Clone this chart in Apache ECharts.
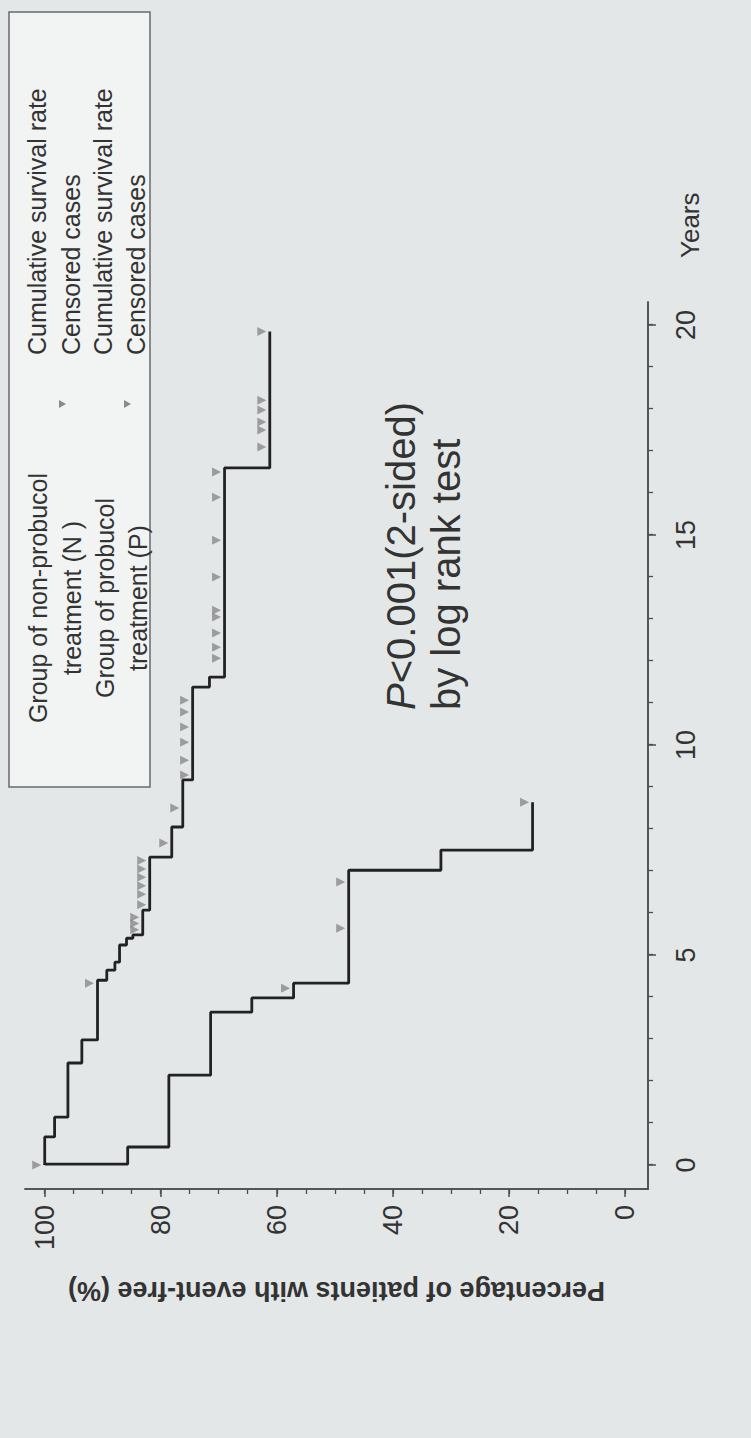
<!DOCTYPE html>
<html>
<head>
<meta charset="utf-8">
<script src="https://cdn.jsdelivr.net/npm/echarts@6/dist/echarts.min.js"></script>
<style>
html,body{margin:0;padding:0;width:751px;height:1438px;overflow:hidden;background:#e4e7e8;}
#chart{position:absolute;left:0;top:0;width:1438px;height:751px;transform-origin:0 0;transform:translate(0,1438px) rotate(-90deg);}
</style>
</head>
<body>
<div id="chart"></div>
<script>
// ---- tick labels ----
const yearLabelTicks = [0, 5, 10, 15, 20];
const yearMinorTicks = [0,1,2,3,4,5,6,7,8,9,10,11,12,13,14,15,16,17,18,19,20];
const pctLabelTicks = [0, 20, 40, 60, 80, 100];
const pctMinorTicks = [0,5,10,15,20,25,30,35,40,45,50,55,60,65,70,75,80,85,90,95,100];

// ---- Group of probucol treatment (P): step points (time in years, survival %) ----
const probucolTimes    = [0, 0.67, 1.14, 2.43, 2.98, 4.40, 4.64, 4.83, 5.24, 5.40, 5.48, 6.07, 7.33, 8.05, 9.17, 11.38, 11.62, 16.6, 19.85];
const probucolSurvival = [100, 98.3, 96.0, 93.6, 90.9, 89.3, 87.9, 87.1, 85.9, 84.8, 83.1, 81.9, 78.1, 76.2, 74.5, 71.6, 69.0, 61.2, 61.2];
const probucolCensorTimes  = [0, 4.33, 5.6, 5.75, 5.9, 6.2, 6.45, 6.65, 6.85, 7.05, 7.25, 7.67, 8.5, 9.29, 9.64, 10.07, 10.43, 10.79, 11.07, 12.07, 12.33, 12.67, 13.05, 13.21, 14.0, 14.88, 15.9, 16.5, 17.1, 17.5, 17.69, 17.98, 18.21, 19.85];
const probucolCensorLevels = [100, 90.9, 83.1, 83.1, 83.1, 81.9, 81.9, 81.9, 81.9, 81.9, 81.9, 78.1, 76.2, 74.5, 74.5, 74.5, 74.5, 74.5, 74.5, 69.0, 69.0, 69.0, 69.0, 69.0, 69.0, 69.0, 69.0, 69.0, 61.2, 61.2, 61.2, 61.2, 61.2, 61.2];

// ---- Group of non-probucol treatment (N) ----
const nonProbucolTimes    = [0, 0.02, 0.43, 2.14, 3.64, 3.98, 4.33, 7.02, 7.5, 8.64];
const nonProbucolSurvival = [100, 85.7, 78.6, 71.4, 64.3, 57.1, 47.6, 31.7, 15.9, 15.9];
const nonProbucolCensorTimes  = [4.21, 5.64, 6.74, 8.64];
const nonProbucolCensorLevels = [57.1, 47.6, 47.6, 15.9];

function pairs(xs, ys) { return xs.map((x, i) => [x, ys[i]]); }

const FONT = '"Liberation Sans", Arial, sans-serif';
const TXT = '#333333';
const AX = '#4d4d4d';
const LINE = '#222222';
const CENS = '#8a8a8a';

const chart = echarts.init(document.getElementById('chart'), null, {renderer: 'svg', width: 1438, height: 751});

const option = {
  animation: false,
  backgroundColor: '#e4e7e8',
  grid: {left: 249, right: 302, top: 25, bottom: 103, containLabel: false},
  xAxis: [
    {
      type: 'value', min: -0.57, max: 20.55, position: 'bottom',
      axisLine: {onZero: false, lineStyle: {color: AX, width: 1.5}},
      axisTick: {customValues: yearLabelTicks, length: 8, lineStyle: {color: AX, width: 1.5}},
      axisLabel: {customValues: yearLabelTicks, margin: 24, fontSize: 27, color: TXT, fontFamily: FONT},
      splitLine: {show: false},
      name: 'Years', nameLocation: 'end', nameGap: 44,
      nameTextStyle: {fontSize: 26, color: TXT, fontFamily: FONT, verticalAlign: 'top', lineHeight: 84}
    },
    {
      type: 'value', min: -0.57, max: 20.55, position: 'bottom',
      axisLine: {onZero: false, lineStyle: {color: AX, width: 1.5}},
      axisTick: {customValues: yearMinorTicks, length: 5, lineStyle: {color: AX, width: 1.3}},
      axisLabel: {show: false},
      splitLine: {show: false}
    }
  ],
  yAxis: [
    {
      type: 'value', min: -4, max: 103.4, position: 'left',
      axisLine: {onZero: false, lineStyle: {color: AX, width: 1.5}},
      axisTick: {customValues: pctLabelTicks, length: 8, lineStyle: {color: AX, width: 1.5}},
      axisLabel: {customValues: pctLabelTicks, margin: 16, fontSize: 27, color: TXT, fontFamily: FONT},
      splitLine: {show: false},
      name: 'Percentage of patients with event-free (%)', nameLocation: 'middle', nameGap: 88,
      nameTextStyle: {fontSize: 27, fontWeight: 'bold', color: TXT, fontFamily: FONT}
    },
    {
      type: 'value', min: -4, max: 103.4, position: 'left',
      axisLine: {onZero: false, lineStyle: {color: AX, width: 1.5}},
      axisTick: {customValues: pctMinorTicks, length: 5, lineStyle: {color: AX, width: 1.3}},
      axisLabel: {show: false},
      splitLine: {show: false}
    }
  ],
  series: [
    {
      name: 'Group of non-probucol treatment (N )', type: 'line', step: 'end',
      data: pairs(nonProbucolTimes, nonProbucolSurvival),
      showSymbol: false, symbol: 'none',
      lineStyle: {color: LINE, width: 2.8}, z: 3
    },
    {
      name: 'Group of probucol treatment (P)', type: 'line', step: 'end',
      data: pairs(probucolTimes, probucolSurvival),
      showSymbol: false, symbol: 'none',
      lineStyle: {color: LINE, width: 2.8}, z: 3
    },
    {
      name: 'Censored cases (N)', type: 'scatter',
      data: pairs(nonProbucolCensorTimes, nonProbucolCensorLevels),
      symbol: 'triangle', symbolSize: [9, 9], symbolRotate: 180, symbolOffset: [0, -8],
      itemStyle: {color: CENS}, z: 4
    },
    {
      name: 'Censored cases (P)', type: 'scatter',
      data: pairs(probucolCensorTimes, probucolCensorLevels),
      symbol: 'triangle', symbolSize: [9, 9], symbolRotate: 180, symbolOffset: [0, -8],
      itemStyle: {color: CENS}, z: 4
    }
  ],
  graphic: [
    {type: 'rect', shape: {x: 651, y: 9, width: 775, height: 141},
     style: {fill: '#f2f3f3', stroke: '#6a6a6a', lineWidth: 1.5}, z: 10},
    {type: 'text', x: 840, y: 38, z: 11, style: {text: 'Group of non-probucol', fontSize: 25, fontFamily: FONT, fill: TXT, align: 'center', verticalAlign: 'middle'}},
    {type: 'text', x: 840, y: 72, z: 11, style: {text: 'treatment (N )', fontSize: 25, fontFamily: FONT, fill: TXT, align: 'center', verticalAlign: 'middle'}},
    {type: 'text', x: 840, y: 105, z: 11, style: {text: 'Group of probucol', fontSize: 25, fontFamily: FONT, fill: TXT, align: 'center', verticalAlign: 'middle'}},
    {type: 'text', x: 840, y: 138, z: 11, style: {text: 'treatment (P)', fontSize: 25, fontFamily: FONT, fill: TXT, align: 'center', verticalAlign: 'middle'}},
    {type: 'text', x: 1083, y: 37, z: 11, style: {text: 'Cumulative survival rate', fontSize: 25, fontFamily: FONT, fill: TXT, align: 'left', verticalAlign: 'middle'}},
    {type: 'text', x: 1083, y: 71, z: 11, style: {text: 'Censored cases', fontSize: 25, fontFamily: FONT, fill: TXT, align: 'left', verticalAlign: 'middle'}},
    {type: 'text', x: 1083, y: 103, z: 11, style: {text: 'Cumulative survival rate', fontSize: 25, fontFamily: FONT, fill: TXT, align: 'left', verticalAlign: 'middle'}},
    {type: 'text', x: 1083, y: 136, z: 11, style: {text: 'Censored cases', fontSize: 25, fontFamily: FONT, fill: TXT, align: 'left', verticalAlign: 'middle'}},
    {type: 'polygon', z: 11, shape: {points: [[1030, 59], [1038, 59], [1034, 66]]}, style: {fill: CENS}},
    {type: 'polygon', z: 11, shape: {points: [[1030, 124], [1038, 124], [1034, 131]]}, style: {fill: CENS}},
    {type: 'text', x: 728, y: 378, z: 11,
     style: {text: '{i|P}<0.001(2-sided)\nby log rank test', fontSize: 40, lineHeight: 45, fontFamily: FONT, fill: TXT,
             align: 'left', verticalAlign: 'top',
             rich: {i: {fontStyle: 'italic', fontSize: 40, lineHeight: 45, fontFamily: FONT, fill: TXT}}}}
  ]
};
chart.setOption(option);
</script>
</body>
</html>
